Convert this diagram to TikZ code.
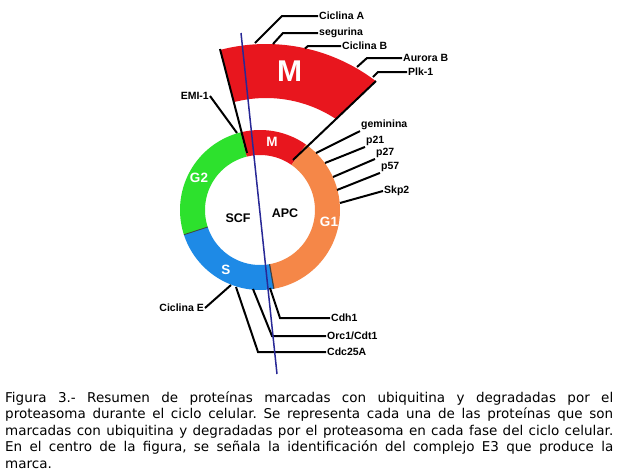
\documentclass[tikz,border=0pt]{standalone}
\usepackage{fontspec}
\setsansfont{Liberation Sans}
\newfontfamily\capfont{DejaVu Sans}
\definecolor{segred}{RGB}{232,22,30}
\definecolor{seggreen}{RGB}{45,225,45}
\definecolor{segblue}{RGB}{30,138,230}
\definecolor{segorange}{RGB}{245,135,72}
\definecolor{axisblue}{RGB}{40,40,150}
\newcommand{\ringseg}[3]{\fill[#3] plot[domain=#1:#2,samples=40] ({260+80*cos(\x)},{210+80*sin(\x)}) -- plot[domain=#2:#1,samples=40] ({260+55*cos(\x)},{210+55*sin(\x)}) -- cycle;}
\begin{document}
\begin{tikzpicture}[x=1pt,y=-1pt,
  lbl/.style={font=\sffamily\bfseries\fontsize{10.5}{12}\selectfont, inner sep=1pt},
  leader/.style={draw=black, line width=2pt},
  phase/.style={font=\sffamily\bfseries\fontsize{13.5}{15}\selectfont, text=white, inner sep=0pt},
  ethree/.style={font=\sffamily\bfseries\fontsize{12.5}{14}\selectfont, inner sep=0pt},
  ]
\useasboundingbox (0,0) rectangle (619,475);
\fill[white] (0,0) rectangle (619,475);

% ring
\ringseg{-104}{-55}{segred}
\ringseg{-55}{80}{segorange}
\ringseg{80}{162}{segblue}
\ringseg{162}{256}{seggreen}
\draw[black!75, line width=0.8pt] ({260+55*cos(162)},{210+55*sin(162)}) -- ({260+80*cos(162)},{210+80*sin(162)});
\draw[black!75, line width=1.2pt] ({260+55*cos(80)},{210+55*sin(80)}) -- ({260+80*cos(80)},{210+80*sin(80)});

% enlarged M band
\fill[segred] plot[domain=-104.6:-52.6,samples=60] ({266+181*cos(\x)},{225+181*sin(\x)}) -- (336,119) -- plot[domain=-56.6:-104.7,samples=60] ({266+127*cos(\x)},{225+127*sin(\x)}) -- cycle;
\node[font=\sffamily\bfseries\fontsize{30}{32}\selectfont, text=white, inner sep=0pt] (bigM) at (289.5,71) {M};

\coordinate (bandTL) at (220,49);
\coordinate (ringMl) at (247,153);
\coordinate (bandTR) at (376,81);
\coordinate (ringMr) at (293,160);
\draw[leader] (bandTL) -- (ringMl);
\draw[leader] (bandTR) -- (ringMr);

% ring texts
\node[phase] (mS) at (272,142) {M};
\node[phase] (g2) at (199,178) {G2};
\node[phase] (sS) at (226,270) {S};
\node[phase] (g1) at (329,222) {G1};
\node[ethree] (scf) at (238,218) {SCF};
\node[ethree] (apc) at (285,213) {APC};

% top labels
\node[lbl,anchor=west] (cicA) at (318,16) {Ciclina A};
\coordinate (cicAa) at (255,43); \coordinate (cicAb) at (282,16);
\draw[leader] (cicAa) -- (cicAb) -- (cicA.west);
\node[lbl,anchor=west] (seg) at (318,33) {segurina};
\coordinate (sega) at (273,44); \coordinate (segb) at (283,33);
\draw[leader] (sega) -- (segb) -- (seg.west);
\node[lbl,anchor=west] (cicB) at (341,46) {Ciclina B};
\coordinate (cicBa) at (305,48.5); \coordinate (cicBb) at (308,46);
\draw[leader] (cicBa) -- (cicBb) -- (cicB.west);
\node[lbl,anchor=west] (aur) at (402,58) {Aurora B};
\coordinate (aura) at (357,67); \coordinate (aurb) at (367,58);
\draw[leader] (aura) -- (aurb) -- (aur.west);
\node[lbl,anchor=west] (plk) at (407,72) {Plk-1};
\coordinate (plka) at (373,77); \coordinate (plkb) at (378,72);
\draw[leader] (plka) -- (plkb) -- (plk.west);
\node[lbl,anchor=east] (emi) at (210,96) {EMI-1};
\coordinate (emiR) at (237,133);
\draw[leader] (emi.east) -- (emiR);

% right labels
\node[lbl,anchor=west] (gem) at (360,125) {geminina};
\coordinate (rgem) at (316,153);
\draw[leader] (rgem) -- (gem.south west);
\node[lbl,anchor=west] (p21) at (365,141) {p21};
\coordinate (rp21) at (325,163);
\draw[leader] (rp21) -- (p21.south west);
\node[lbl,anchor=west] (p27) at (375,153) {p27};
\coordinate (rp27) at (333,177);
\draw[leader] (rp27) -- (p27.south west);
\node[lbl,anchor=west] (p57) at (380,167) {p57};
\coordinate (rp57) at (337,190);
\draw[leader] (rp57) -- (p57.south west);
\node[lbl,anchor=west] (skp) at (383,191) {Skp2};
\coordinate (rskp) at (340,203);
\draw[leader] (rskp) -- (skp.west);

% bottom labels
\node[lbl,anchor=east] (cicE) at (205,308) {Ciclina E};
\coordinate (rcicE) at (231,285);
\draw[leader] (cicE.east) -- (rcicE);
\node[lbl,anchor=west] (cdh) at (330,318) {Cdh1};
\coordinate (rcdh) at (270,288); \coordinate (bcdh) at (280,318);
\draw[leader] (rcdh) -- (bcdh) -- (cdh.west);
\node[lbl,anchor=west] (orc) at (326,336) {Orc1/Cdt1};
\coordinate (rorc) at (253,289); \coordinate (borc) at (272,336);
\draw[leader] (rorc) -- (borc) -- (orc.west);
\node[lbl,anchor=west] (cdc) at (326,352) {Cdc25A};
\coordinate (rcdc) at (236,287); \coordinate (bcdc) at (258,352);
\draw[leader] (rcdc) -- (bcdc) -- (cdc.west);

% axis line
\coordinate (axT) at (241,33);
\coordinate (axB) at (277,374);
\draw[axisblue, line width=1.5pt] (axT) -- (axB);

% caption
\node[anchor=north west, inner sep=0pt, text width=608pt, align=justify,
  font=\capfont\fontsize{13.5}{16.5}\selectfont] (cap) at (5,391)
{\frenchspacing\hyphenpenalty=10000\exhyphenpenalty=10000\tolerance=10000\hbadness=10000
Figura 3.- Resumen de proteínas marcadas con ubiquitina y degradadas por el\linebreak
proteasoma durante el ciclo celular. Se representa cada una de las proteínas que son\linebreak
marcadas con ubiquitina y degradadas por el proteasoma en cada fase del ciclo celular.\linebreak
En el centro de la figura, se señala la identificación del complejo E3 que produce la\linebreak
marca.};
\end{tikzpicture}
\end{document}
